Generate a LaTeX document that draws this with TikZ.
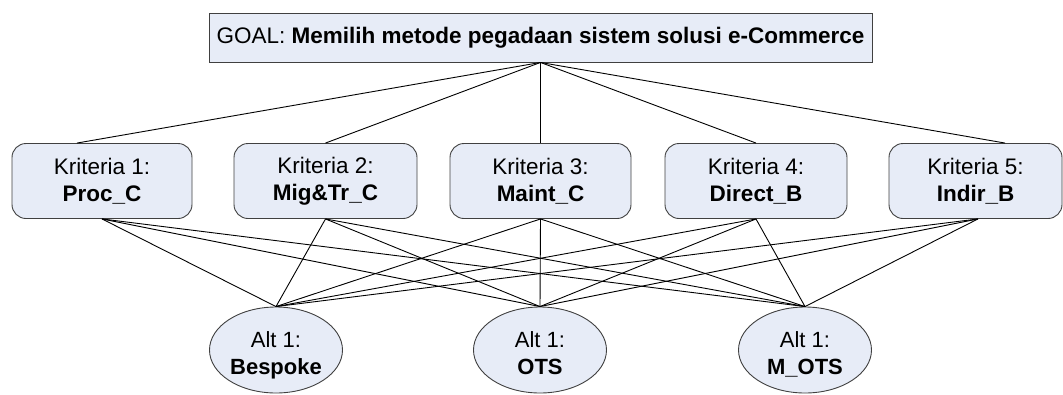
\documentclass[tikz,border=0pt]{standalone}
\usepackage{fontspec}
\setmainfont{Liberation Sans}
\usetikzlibrary{shapes.geometric}
\definecolor{boxfill}{RGB}{231,236,247}
\definecolor{boxline}{RGB}{64,64,64}
% two centred lines, set a little below the middle of the shape
\newcommand{\twolines}[2]{\raisebox{-11pt}[0pt][0pt]{\begin{tabular}{@{}c@{}}#1\\[1pt]#2\end{tabular}}}
\tikzset{
  goalbox/.style={draw=boxline, fill=boxfill, line width=0.9pt,
    minimum width=663pt, minimum height=49pt, inner sep=0pt,
    font=\fontsize{22.5}{26}\selectfont},
  critbox/.style={draw=boxline, fill=boxfill, line width=0.9pt,
    rounded corners=14pt, minimum height=75pt, inner sep=0pt,
    align=center, font=\fontsize{22.5}{27}\selectfont},
  altnode/.style={ellipse, draw=boxline, fill=boxfill, line width=0.9pt,
    minimum width=133pt, minimum height=86pt, inner sep=0pt,
    font=\fontsize{22}{26}\selectfont},
  link/.style={draw=black, line width=0.9pt}
}
\begin{document}
\begin{tikzpicture}[x=1pt,y=-1pt]
  \useasboundingbox (0,0) rectangle (1063,394);

  % goal
  \node[goalbox] (goal) at (540.5,37.5)
    {GOAL: \textbf{Memilih metode pegadaan sistem solusi e-Commerce}};

  % criteria
  \node[critbox, minimum width=180pt] (k1) at (102,181)   {Kriteria 1:\\\textbf{Proc\_C}};
  \node[critbox, minimum width=183pt] (k2) at (325.5,181) {Kriteria 2:\\\textbf{Mig\&Tr\_C}};
  \node[critbox, minimum width=181pt] (k3) at (540.5,181) {Kriteria 3:\\\textbf{Maint\_C}};
  \node[critbox, minimum width=182pt] (k4) at (756,181)   {Kriteria 4:\\\textbf{Direct\_B}};
  \node[critbox, minimum width=173pt] (k5) at (975.5,181) {Kriteria 5:\\\textbf{Indir\_B}};

  % alternatives
  \node[altnode] (a1) at (276,350) {\twolines{Alt 1:}{\textbf{Bespoke}}};
  \node[altnode] (a2) at (540,350) {\twolines{Alt 1:}{\textbf{OTS}}};
  \node[altnode] (a3) at (805,350) {\twolines{Alt 1:}{\textbf{M\_OTS}}};

  % attachment points on the criteria boxes
  \coordinate (k1t) at ([xshift=-25pt]k1.north);
  \coordinate (k5t) at ([xshift=29.5pt]k5.north);
  \coordinate (k5b) at ([xshift=2.5pt]k5.south);

  % goal to criteria
  \draw[link] (goal.south) -- (k1t);
  \draw[link] (goal.south) -- (k2.north);
  \draw[link] (goal.south) -- (k3.north);
  \draw[link] (goal.south) -- (k4.north);
  \draw[link] (goal.south) -- (k5t);

  % criteria to alternatives
  \foreach \k in {k1,k2,k3,k4}{
    \foreach \a in {a1,a2,a3}{
      \draw[link] (\k.south) -- (\a.north);
    }
  }
  \foreach \a in {a1,a2,a3}{
    \draw[link] (k5b) -- (\a.north);
  }
\end{tikzpicture}
\end{document}
